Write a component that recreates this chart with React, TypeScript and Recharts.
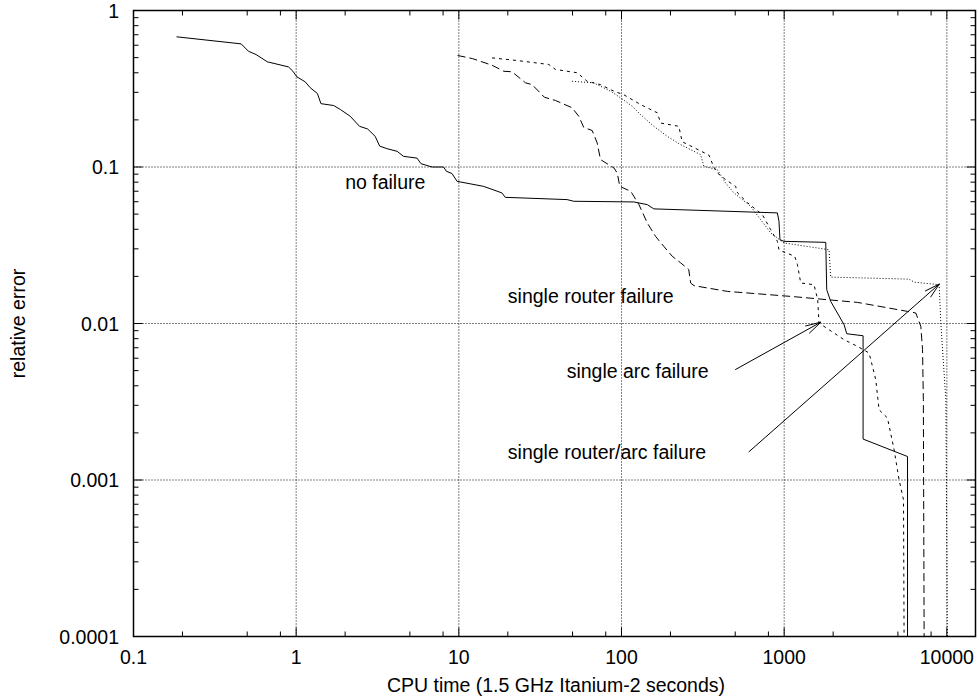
import { ComposedChart, Line, XAxis, YAxis, ReferenceLine, ReferenceDot, ReferenceArea } from 'recharts'

// CPU time (s) vs relative error, four failure scenarios
const noFailX = [0.184, 0.459, 0.509, 0.567, 0.665, 0.897, 0.955, 1.01, 1.136, 1.22, 1.35, 1.42, 1.7, 1.87, 2.15, 2.45, 2.75, 3.06, 3.26, 3.61, 4.17, 4.57, 5.53, 5.85, 6.84, 8.06, 8.38, 9.08, 9.75, 14.2, 18.4, 19.3, 46.3, 50.9, 119, 144, 158, 908, 929, 942, 997, 1801, 1826, 1932, 2335, 2425, 3055, 3055, 5731, 5731]
const noFailY = [0.679, 0.612, 0.549, 0.523, 0.47, 0.436, 0.409, 0.377, 0.35, 0.321, 0.295, 0.254, 0.247, 0.233, 0.211, 0.182, 0.175, 0.157, 0.136, 0.131, 0.126, 0.117, 0.114, 0.105, 0.1, 0.1, 0.0939, 0.0908, 0.081, 0.0752, 0.0683, 0.064, 0.0619, 0.0604, 0.0598, 0.0575, 0.054, 0.0509, 0.045, 0.0343, 0.0335, 0.033, 0.01644, 0.01384, 0.00982, 0.0086, 0.00835, 0.001826, 0.001413, 0.0001]

const routerX = [9.83, 12.1, 16.0, 18.9, 21.2, 25.7, 28.2, 33.6, 39.3, 49.7, 54.6, 58.6, 66.0, 70.8, 74.3, 89.7, 94.1, 97.6, 114, 128, 144, 162, 182, 205, 231, 259, 266, 279, 447, 1097, 2822, 5731, 6443, 6918, 7088, 7170, 7249]
const routerY = [0.516, 0.493, 0.447, 0.409, 0.406, 0.345, 0.336, 0.279, 0.266, 0.239, 0.211, 0.179, 0.171, 0.143, 0.1115, 0.0987, 0.0917, 0.0752, 0.0699, 0.0575, 0.0439, 0.036, 0.0311, 0.0269, 0.0244, 0.0221, 0.01815, 0.01745, 0.01604, 0.0149, 0.01364, 0.01195, 0.01167, 0.00958, 0.0068, 0.00326, 0.0001]

const arcX = [16.0, 22.8, 35.7, 39.3, 53.4, 61.5, 74.3, 89.7, 103, 131, 166, 174, 225, 236, 279, 345, 366, 388, 436, 503, 517, 594, 734, 826, 908, 929, 975, 1160, 1206, 1264, 1525, 1607, 1637, 1757, 2335, 2822, 3325, 3489, 3656, 3831, 4315, 4740, 5088, 5414, 5458]
const arcY = [0.498, 0.479, 0.452, 0.42, 0.4, 0.353, 0.336, 0.305, 0.29, 0.2506, 0.222, 0.191, 0.182, 0.145, 0.133, 0.119, 0.102, 0.0917, 0.0831, 0.0752, 0.0683, 0.0592, 0.0496, 0.0398, 0.0335, 0.0296, 0.0289, 0.0269, 0.0238, 0.01815, 0.0177, 0.0142, 0.01008, 0.00958, 0.00788, 0.00714, 0.00648, 0.00532, 0.00437, 0.00281, 0.00249, 0.00156, 0.001, 0.000747, 0.0001]

const bothX = [49.7, 67.5, 85.5, 98.6, 116, 131, 158, 191, 231, 306, 321, 388, 436, 491, 622, 717, 826, 997, 1887, 1932, 5861, 6293, 8970, 9183, 9409, 9863, 10070]
const bothY = [0.353, 0.345, 0.305, 0.277, 0.245, 0.216, 0.182, 0.157, 0.139, 0.12, 0.101, 0.0962, 0.0791, 0.0683, 0.0561, 0.0461, 0.0379, 0.0327, 0.0296, 0.0198, 0.0192, 0.01837, 0.0177, 0.01008, 0.0068, 0.00326, 0.0001]

// axis ticks
const xMajor = [0.1, 1, 10, 100, 1000, 10000]
const xLabels = ['0.1', '1', '10', '100', '1000', '10000']
const xMinor = [0.2, 0.5, 0.8, 2, 5, 8, 20, 50, 80, 200, 500, 800, 2000, 5000, 8000]
const yMajor = [0.0001, 0.001, 0.01, 0.1, 1]
const yLabels = ['0.0001', '0.001', '0.01', '0.1', '1']
const yMinor = [
  0.0002, 0.0003, 0.0004, 0.0005, 0.0006, 0.0007, 0.0008, 0.0009,
  0.002, 0.003, 0.004, 0.005, 0.006, 0.007, 0.008, 0.009,
  0.02, 0.03, 0.04, 0.05, 0.06, 0.07, 0.08, 0.09,
  0.2, 0.3, 0.4, 0.5, 0.6, 0.7, 0.8, 0.9,
]
const xGrid = [1, 10, 100, 1000, 10000]
const yGrid = [0.1, 0.01, 0.001]

// annotations
const notes = [
  { x: 2.0, y: 0.0798, text: 'no failure' },
  { x: 20, y: 0.015, text: 'single router failure' },
  { x: 46, y: 0.005, text: 'single arc failure' },
  { x: 20, y: 0.0015, text: 'single router/arc failure' },
]
const arrows = [
  { from: { x: 500, y: 0.00507 }, to: { x: 1680, y: 0.0102 } },
  { from: { x: 605, y: 0.00151 }, to: { x: 9000, y: 0.0179 } },
]

const zip = (xs: number[], ys: number[]) => xs.map((x, i) => ({ x, y: ys[i] }))
const noFailData = zip(noFailX, noFailY)
const routerData = zip(routerX, routerY)
const arcData = zip(arcX, arcY)
const bothData = zip(bothX, bothY)

const FONT = '"Liberation Sans", Arial, Helvetica, sans-serif'
const FS = 19.5
const TOP = 10.5
const BOTTOM = 636.5
const LEFT = 133.5
const RIGHT = 975.5
const MAJOR = 9
const MINOR = 5

const XTick = (props: any) => {
  const { x, payload } = props
  const i = xMajor.indexOf(payload.value)
  const len = i >= 0 ? MAJOR : MINOR
  return (
    <g>
      <line x1={x} x2={x} y1={BOTTOM} y2={BOTTOM - len} stroke="#000" />
      <line x1={x} x2={x} y1={TOP} y2={TOP + len} stroke="#000" />
      {i >= 0 && (
        <text x={x} y={663.5} textAnchor="middle" fontFamily={FONT} fontSize={FS} fill="#000">
          {xLabels[i]}
        </text>
      )}
    </g>
  )
}

const YTick = (props: any) => {
  const { y, payload } = props
  const i = yMajor.indexOf(payload.value)
  const len = i >= 0 ? MAJOR : MINOR
  return (
    <g>
      <line x1={LEFT} x2={LEFT + len} y1={y} y2={y} stroke="#000" />
      <line x1={RIGHT} x2={RIGHT - len} y1={y} y2={y} stroke="#000" />
      {i >= 0 && (
        <text x={119} y={y + 7} textAnchor="end" fontFamily={FONT} fontSize={FS} fill="#000">
          {yLabels[i]}
        </text>
      )}
    </g>
  )
}

const Arrow = (p: any) => {
  const { x1, y1, x2, y2 } = p
  const a = Math.atan2(y2 - y1, x2 - x1)
  const L = 16
  const s = 0.26
  const bx1 = x2 - L * Math.cos(a - s)
  const by1 = y2 - L * Math.sin(a - s)
  const bx2 = x2 - L * Math.cos(a + s)
  const by2 = y2 - L * Math.sin(a + s)
  return (
    <g>
      <line x1={x1} y1={y1} x2={x2} y2={y2} stroke="#000" strokeWidth={1} />
      <polyline points={`${bx1},${by1} ${x2},${y2} ${bx2},${by2}`} fill="none" stroke="#000" strokeWidth={1} />
    </g>
  )
}

export default function App() {
  return (
    <div>
      <style>{'body{margin:0}'}</style>
      <ComposedChart width={979} height={700} margin={{ top: TOP, right: 3.5, bottom: 0, left: 0 }}>
        <XAxis
          type="number"
          dataKey="x"
          scale="log"
          domain={[0.1, 15000]}
          allowDataOverflow
          ticks={[...xMajor, ...xMinor]}
          interval={0}
          tick={XTick}
          tickLine={false}
          axisLine={false}
          height={63.5}
          label={{
            content: () => (
              <text x={556} y={692} textAnchor="middle" fontFamily={FONT} fontSize={FS} fill="#000">
                CPU time (1.5 GHz Itanium-2 seconds)
              </text>
            ),
          }}
        />
        <YAxis
          type="number"
          dataKey="y"
          scale="log"
          domain={[0.0001, 1]}
          allowDataOverflow
          ticks={[...yMajor, ...yMinor]}
          interval={0}
          tick={YTick}
          tickLine={false}
          axisLine={false}
          width={LEFT}
          label={{
            content: () => (
              <text
                x={24.5}
                y={323.5}
                transform="rotate(-90 24.5 323.5)"
                textAnchor="middle"
                fontFamily={FONT}
                fontSize={FS}
                fill="#000"
              >
                relative error
              </text>
            ),
          }}
        />
        {xGrid.map(v => (
          <ReferenceLine key={'gx' + v} x={v} stroke="#000" strokeDasharray="1 2" />
        ))}
        {yGrid.map(v => (
          <ReferenceLine key={'gy' + v} y={v} stroke="#000" strokeDasharray="1 2" />
        ))}
        <Line data={noFailData} dataKey="y" type="linear" stroke="#000" strokeWidth={1} dot={false} isAnimationActive={false} />
        <Line data={routerData} dataKey="y" type="linear" stroke="#000" strokeWidth={1} strokeDasharray="8 4" dot={false} isAnimationActive={false} />
        <Line data={arcData} dataKey="y" type="linear" stroke="#000" strokeWidth={1} strokeDasharray="3 4" dot={false} isAnimationActive={false} />
        <Line data={bothData} dataKey="y" type="linear" stroke="#000" strokeWidth={1} strokeDasharray="1 2" dot={false} isAnimationActive={false} />
        {arrows.map((a, i) => (
          <ReferenceLine key={'ar' + i} segment={[a.from, a.to]} shape={Arrow} />
        ))}
        {notes.map(n => (
          <ReferenceDot
            key={n.text}
            x={n.x}
            y={n.y}
            r={1}
            shape={(p: any) => (
              <text x={p.cx} y={p.cy + 7} fontFamily={FONT} fontSize={FS} fill="#000">
                {n.text}
              </text>
            )}
          />
        ))}
        <ReferenceArea x1={0.1} x2={15000} y1={0.0001} y2={1} fill="none" stroke="#000" strokeWidth={1.5} />
      </ComposedChart>
    </div>
  )
}
